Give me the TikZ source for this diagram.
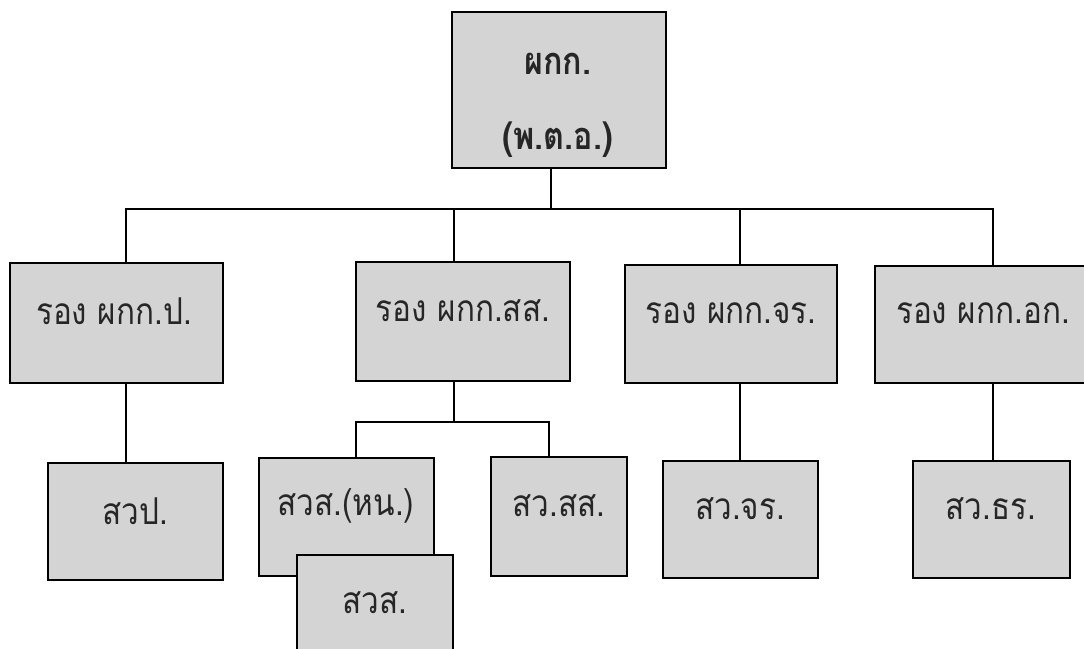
\documentclass[tikz,border=0pt]{standalone}
\usepackage{fontspec}
\newfontfamily\thaifont[Script=Thai, FakeStretch=0.85]{Loma}
\usetikzlibrary{calc}
\tikzset{
  box/.style={draw=black, line width=2.6pt, fill=black!17, rectangle, inner sep=0pt},
  lbl/.style={font=\thaifont\fontsize{37}{39}\selectfont, inner sep=0pt, text=black!85},
  toplbl/.style={font=\thaifont\bfseries\fontsize{38}{40}\selectfont, inner sep=0pt, text=black!85},
  conn/.style={draw=black, line width=2pt}
}
\begin{document}
\begin{tikzpicture}[x=1pt,y=-1pt]
\useasboundingbox (0,0) rectangle (1084,648);
\clip (0,0) rectangle (1084,648);
% boxes
\node[box, minimum width=214pt, minimum height=156pt] (top) at (559,90) {};
\node[box, minimum width=213pt, minimum height=120pt] (b1) at (116.5,323) {};
\node[box, minimum width=214pt, minimum height=119pt] (b2) at (463,321.5) {};
\node[box, minimum width=212pt, minimum height=118pt] (b3) at (731,324) {};
\node[box, minimum width=212pt, minimum height=117pt] (b4) at (981,324.5) {};
\node[box, minimum width=175pt, minimum height=117pt] (c1) at (135.5,521.5) {};
\node[box, minimum width=175pt, minimum height=118pt] (c2) at (346.5,517) {};
\node[box, minimum width=156pt, minimum height=118pt] (c3) at (375,614) {};
\node[box, minimum width=136pt, minimum height=119pt] (c4) at (559,516.5) {};
\node[box, minimum width=155pt, minimum height=117pt] (c5) at (740.5,519.5) {};
\node[box, minimum width=157pt, minimum height=117pt] (c6) at (991.5,519.5) {};
% labels
\node[toplbl] (t1) at (558,64) {ผกก.};
\node[toplbl] (t2) at (558,140) {(พ.ต.อ.)};
\node[lbl] (l1) at (114,311) {รอง ผกก.ป.};
\node[lbl] (l2) at (463,311) {รอง ผกก.สส.};
\node[lbl] (l3) at (731,313) {รอง ผกก.จร.};
\node[lbl] (l4) at (983,313) {รอง ผกก.อก.};
\node[lbl] (m1) at (135,511) {สวป.};
\node[lbl] (m2) at (346,506) {สวส.(หน.)};
\node[lbl] (m3) at (375,603) {สวส.};
\node[lbl] (m4) at (559,506) {สว.สส.};
\node[lbl] (m5) at (740,509) {สว.จร.};
\node[lbl] (m6) at (991,509) {สว.ธร.};
% connector helper coordinates
\coordinate (bus) at (0,209);
\coordinate (bus2) at (0,422);
\coordinate (xt) at (551,0);
\coordinate (x1) at (126,0);
\coordinate (x2) at (454,0);
\coordinate (x3) at (740,0);
\coordinate (x4) at (993,0);
\coordinate (xa) at (356,0);
\coordinate (xb) at (549,0);
% connectors
\draw[conn] (top.south -| xt) -- (bus -| xt);
\draw[conn] (b1.north -| x1) -- (bus -| x1) -- (bus -| x4) -- (b4.north -| x4);
\draw[conn] (bus -| x2) -- (b2.north -| x2);
\draw[conn] (bus -| x3) -- (b3.north -| x3);
\draw[conn] (b1.south -| x1) -- (c1.north -| x1);
\draw[conn] (b2.south -| x2) -- (bus2 -| x2);
\draw[conn] (c2.north -| xa) -- (bus2 -| xa) -- (bus2 -| xb) -- (c4.north -| xb);
\draw[conn] (b3.south -| x3) -- (c5.north -| x3);
\draw[conn] (b4.south -| x4) -- (c6.north -| x4);
\end{tikzpicture}
\end{document}
